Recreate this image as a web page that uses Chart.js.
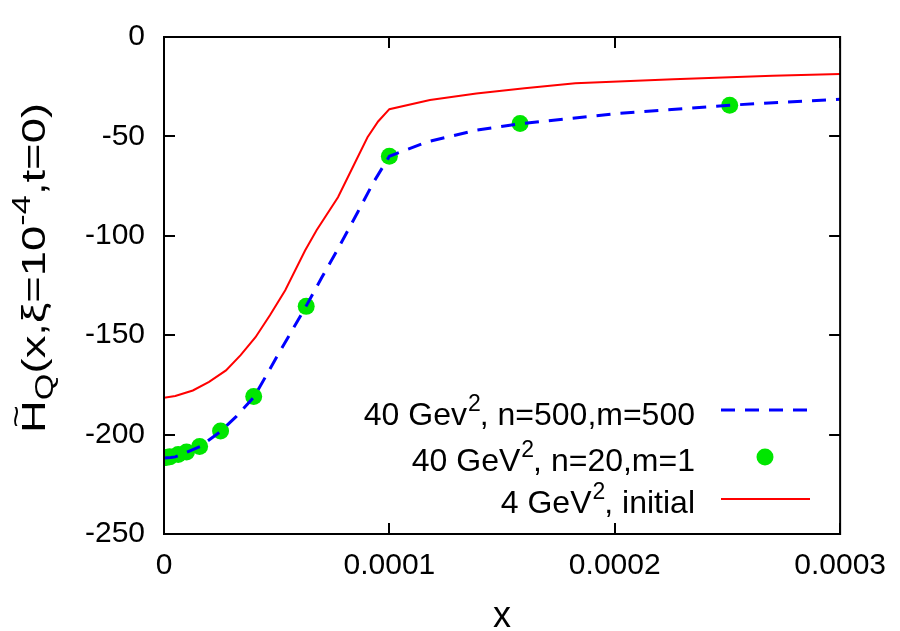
<!DOCTYPE html>
<html>
<head>
<meta charset="utf-8">
<script src="https://cdn.jsdelivr.net/npm/chart.js@4.4.0/dist/chart.umd.min.js"></script>
<style>
    html, body { margin: 0; padding: 0; background: #fff; }
</style>
</head>
<body>
<canvas id="chart" width="900" height="631"></canvas>
<script>
// Axis ticks
const xTicks = [0, 0.0001, 0.0002, 0.0003];
const xTickLabels = ['0', '0.0001', '0.0002', '0.0003'];
const yTicks = [0, -50, -100, -150, -200, -250];
const yTickLabels = ['0', '-50', '-100', '-150', '-200', '-250'];

// 40 GeV^2, n=500, m=500 (dashed blue)
const evolvedX = [0, 0.000003, 0.000005, 0.00001, 0.000016, 0.000025, 0.000032, 0.00004, 0.00005, 0.000063,
    0.00007, 0.000077, 0.000086, 0.000093, 0.0001, 0.000117, 0.000139, 0.000159, 0.0002, 0.000251, 0.0003];
const evolvedY = [-211.8, -211.5, -211.2, -208.9, -206, -198.5, -191, -181, -161, -135.5,
    -121, -107, -88, -73, -60, -52.7, -46.8, -43.5, -38.6, -34.3, -31.3];

// 40 GeV^2, n=20, m=1 (green points)
const pointsX = [0.000001, 0.0000025, 0.0000063, 0.00001, 0.0000158, 0.0000251, 0.0000398, 0.0000631, 0.0001, 0.000158, 0.000251];
const pointsY = [-211.5, -211.2, -210, -208.8, -206, -198.2, -180.8, -135.5, -60, -43.5, -34.3];

// 4 GeV^2, initial (red)
const initialX = [0, 0.000005, 0.0000128, 0.00002, 0.0000275, 0.000034, 0.0000406, 0.000047, 0.0000538, 0.0000626,
    0.0000677, 0.0000772, 0.000085, 0.0000903, 0.000095, 0.0001, 0.000118, 0.0001386, 0.00016, 0.0001825, 0.000226, 0.00027, 0.0003];
const initialY = [-181.5, -180.6, -177.8, -173.5, -167.7, -160, -151, -140, -127.4, -107.4,
    -97.2, -80.6, -62.6, -50.4, -42.5, -36.3, -31.7, -28.4, -25.8, -23.3, -21.2, -19.5, -18.6];

const legendRows = [
    { pre: '40 Gev', sup: '2', post: ', n=500,m=500', ds: 0 },
    { pre: '40 GeV', sup: '2', post: ', n=20,m=1', ds: 1 },
    { pre: '4 GeV', sup: '2', post: ', initial', ds: 2 }
];

const FONT = '"Liberation Sans", Arial, sans-serif';

function toXY(xs, ys) {
    return xs.map((x, i) => ({ x: x, y: ys[i] }));
}

// frame, inward ticks, legend and axis titles (gnuplot look)
const decorPlugin = {
    id: 'decor',
    afterDatasetsDraw(chart) {
        const ctx = chart.ctx;
        const a = chart.chartArea;
        const xs = chart.scales.x, ys = chart.scales.y;
        ctx.save();
        ctx.strokeStyle = '#000';
        ctx.lineWidth = 2;
        ctx.beginPath();
        xTicks.forEach(v => {
            const px = Math.round(xs.getPixelForValue(v));
            ctx.moveTo(px, a.bottom); ctx.lineTo(px, a.bottom - 11);
            ctx.moveTo(px, a.top); ctx.lineTo(px, a.top + 11);
        });
        yTicks.forEach(v => {
            const py = Math.round(ys.getPixelForValue(v));
            ctx.moveTo(a.left, py); ctx.lineTo(a.left + 11, py);
            ctx.moveTo(a.right, py); ctx.lineTo(a.right - 11, py);
        });
        ctx.stroke();
        ctx.strokeRect(a.left, a.top, a.right - a.left, a.bottom - a.top);

        // legend
        ctx.fillStyle = '#000';
        ctx.textBaseline = 'alphabetic';
        const textRight = 695;
        const base = [425, 471, 513];
        const sampleY = [410, 457, 499];
        const big = '32px ' + FONT, small = '23px ' + FONT;
        legendRows.forEach((r, i) => {
            ctx.font = big;
            const wPost = ctx.measureText(r.post).width;
            const wPre = ctx.measureText(r.pre).width;
            ctx.font = small;
            const wSup = ctx.measureText(r.sup).width;
            let x = textRight - wPost - wSup - wPre;
            ctx.textAlign = 'left';
            ctx.font = big;
            ctx.fillText(r.pre, x, base[i]);
            x += wPre;
            ctx.font = small;
            ctx.fillText(r.sup, x + 1, base[i] - 14);
            x += wSup;
            ctx.font = big;
            ctx.fillText(r.post, x, base[i]);

            const ds = chart.data.datasets[r.ds];
            if (ds.showLine === false) {
                ctx.fillStyle = ds.pointBackgroundColor;
                ctx.beginPath();
                ctx.arc(765, sampleY[i], ds.pointRadius, 0, Math.PI * 2);
                ctx.fill();
                ctx.fillStyle = '#000';
            } else {
                ctx.strokeStyle = ds.borderColor;
                ctx.lineWidth = ds.borderWidth;
                ctx.setLineDash(ds.borderDash || []);
                ctx.beginPath();
                ctx.moveTo(721, sampleY[i]);
                ctx.lineTo(810, sampleY[i]);
                ctx.stroke();
                ctx.setLineDash([]);
            }
        });

        // x title
        ctx.fillStyle = '#000';
        ctx.font = '36px ' + FONT;
        ctx.textAlign = 'center';
        ctx.fillText('x', (a.left + a.right) / 2, 627);

        // y title: H~_Q(x,xi=10^-4,t=0)
        const parts = [
            { t: 'H', f: 33, dy: 0 },
            { t: 'Q', f: 25, dy: 8 },
            { t: '(x,\u03BE=10', f: 33, dy: 0 },
            { t: '-4', f: 25, dy: -15 },
            { t: ',t=0)', f: 33, dy: 0 }
        ];
        let total = 0;
        parts.forEach(p => { ctx.font = p.f + 'px ' + FONT; p.w = ctx.measureText(p.t).width; total += p.w; });
        const stretch = 330 / total;
        ctx.translate(45, 268);
        ctx.rotate(-Math.PI / 2);
        ctx.scale(stretch, 1);
        ctx.textAlign = 'left';
        let cx = -total / 2;
        parts.forEach((p, i) => {
            ctx.font = p.f + 'px ' + FONT;
            ctx.fillText(p.t, cx, p.dy);
            if (i === 0) {
                ctx.font = '28px ' + FONT;
                ctx.textAlign = 'center';
                ctx.fillText('~', cx + p.w / 2, -19);
                ctx.textAlign = 'left';
            }
            cx += p.w;
        });
        ctx.restore();
    }
};

const ctx = document.getElementById('chart').getContext('2d');
const chart = new Chart(ctx, {
    type: 'scatter',
    data: {
        datasets: [{
            label: '40 Gev^2, n=500,m=500',
            data: toXY(evolvedX, evolvedY),
            showLine: true,
            borderColor: 'rgb(0,0,255)',
            borderWidth: 3,
            borderDash: [14, 10],
            pointRadius: 0,
            tension: 0,
            order: 1
        }, {
            label: '40 GeV^2, n=20,m=1',
            data: toXY(pointsX, pointsY),
            showLine: false,
            pointRadius: 8.5,
            pointBackgroundColor: 'rgb(0,230,0)',
            pointBorderWidth: 0,
            backgroundColor: 'rgb(0,230,0)',
            order: 2
        }, {
            label: '4 GeV^2, initial',
            data: toXY(initialX, initialY),
            showLine: true,
            borderColor: 'rgb(255,0,0)',
            borderWidth: 2,
            pointRadius: 0,
            tension: 0,
            order: 3
        }]
    },
    options: {
        responsive: false,
        animation: false,
        devicePixelRatio: 1,
        layout: { padding: { left: 0, top: 37, right: 52, bottom: 0 } },
        plugins: { legend: { display: false }, tooltip: { enabled: false } },
        scales: {
            x: {
                type: 'linear',
                min: 0,
                max: 0.0003,
                afterBuildTicks: s => { s.ticks = xTicks.map(v => ({ value: v })); },
                afterFit: s => { s.height = 97; },
                grid: { display: false, drawTicks: false },
                border: { display: false },
                ticks: {
                    padding: 14,
                    color: '#000',
                    font: { family: FONT, size: 30 },
                    maxRotation: 0,
                    callback: (v, i) => xTickLabels[i]
                }
            },
            y: {
                type: 'linear',
                min: -250,
                max: 0,
                afterBuildTicks: s => { s.ticks = yTicks.map(v => ({ value: v })); },
                afterFit: s => { s.width = 164; },
                grid: { display: false, drawTicks: false },
                border: { display: false },
                ticks: {
                    padding: 19,
                    color: '#000',
                    font: { family: FONT, size: 30 },
                    callback: (v, i) => yTickLabels[i]
                }
            }
        }
    },
    plugins: [decorPlugin]
});
</script>
</body>
</html>
